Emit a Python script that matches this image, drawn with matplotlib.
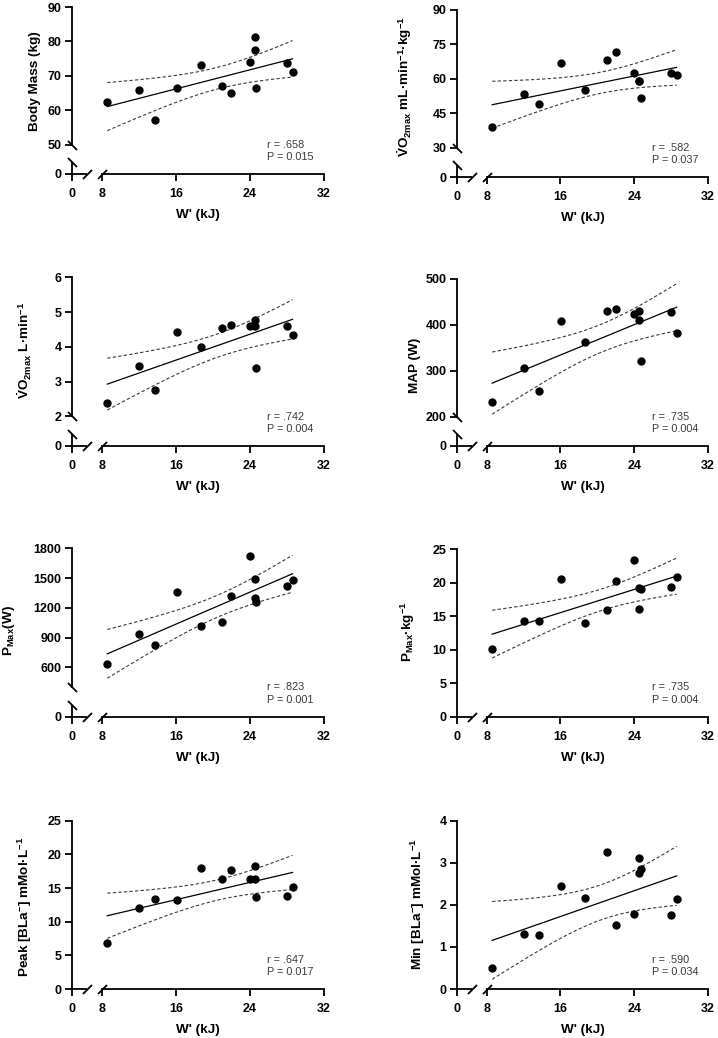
import numpy as np
import matplotlib.pyplot as plt

plt.rcParams['font.family'] = 'Liberation Sans'
plt.rcParams['mathtext.fontset'] = 'custom'
plt.rcParams['mathtext.rm'] = 'Liberation Sans:bold'
plt.rcParams['mathtext.it'] = 'Liberation Sans:bold'
plt.rcParams['mathtext.bf'] = 'Liberation Sans:bold'

# W' (kJ) for the 13 participants, same order in every panel
w_prime = [8.6, 12.0, 13.7, 16.1, 18.7, 21.0, 22.0, 24.0, 24.5, 24.5, 24.7, 28.0, 28.6]

body_mass = [62.3, 65.8, 57.3, 66.5, 73.3, 67.0, 65.0, 74.1, 81.2, 77.6, 66.4, 73.8, 71.0]
vo2max_rel = [38.9, 53.2, 48.8, 66.8, 55.1, 68.2, 71.4, 62.4, 59.0, 59.2, 51.7, 62.4, 61.4]
vo2max_abs = [2.39, 3.46, 2.76, 4.42, 4.00, 4.55, 4.62, 4.59, 4.78, 4.59, 3.40, 4.59, 4.33]
map_w = [232, 305, 256, 408, 363, 429, 435, 424, 429, 411, 322, 428, 383]
pmax = [630, 932, 821, 1358, 1019, 1062, 1321, 1723, 1300, 1491, 1257, 1418, 1481]
pmax_kg = [10.1, 14.2, 14.3, 20.5, 13.9, 15.9, 20.3, 23.3, 16.0, 19.2, 19.0, 19.3, 20.9]
peak_bla = [6.8, 12.1, 13.4, 13.2, 18.0, 16.3, 17.7, 16.3, 18.3, 16.4, 13.7, 13.8, 15.2]
min_bla = [0.50, 1.30, 1.28, 2.45, 2.16, 3.26, 1.52, 1.79, 3.11, 2.75, 2.85, 1.75, 2.15]

y_series = [body_mass, vo2max_rel, vo2max_abs, map_w, pmax, pmax_kg, peak_bla, min_bla]
y_labels = [
    'Body Mass (kg)',
    r'$\dot{V}$O$_{2max}$ mL·min$^{-1}$·kg$^{-1}$',
    r'$\dot{V}$O$_{2max}$ L·min$^{-1}$',
    'MAP (W)',
    r'P$_{Max}$(W)',
    r'P$_{Max}$·kg$^{-1}$',
    r'Peak [BLa$^{-}$] mMol·L$^{-1}$',
    r'Min [BLa$^{-}$] mMol·L$^{-1}$',
]
y_breaks = [50, 30, 2, 200, 400, None, None, None]
y_tops = [90, 90, 6, 500, 1800, 25, 25, 4]
y_ticks = [
    [0, 50, 60, 70, 80, 90],
    [0, 30, 45, 60, 75, 90],
    [0, 2, 3, 4, 5, 6],
    [0, 200, 300, 400, 500],
    [0, 600, 900, 1200, 1500, 1800],
    [0, 5, 10, 15, 20, 25],
    [0, 5, 10, 15, 20, 25],
    [0, 1, 2, 3, 4],
]
r_values = ['.658', '.582', '.742', '.735', '.823', '.735', '.647', '.590']
p_values = ['0.015', '0.037', '0.004', '0.004', '0.001', '0.004', '0.017', '0.034']
x_ticks = [0, 8, 16, 24, 32]

# layout in pixels (figure 718 x 1038)
W, H = 718, 1038
col_left = [72, 457]
col_width = [252, 251]
tops = [7, 9.7, 277.3, 278.7, 548.3, 549, 820.7, 820.7]
bottoms = [174, 177, 446, 446, 716.7, 716.7, 989, 989]
label_pos = [(35, 81), (405, 87), (25, 350), (415, 365), (9, 631), (408, 632),
             (25, 907), (418, 904)]

T_CRIT = 2.201  # t(0.975, df=11)


def broken(b, top, frac):
    def fwd(v):
        v = np.asarray(v, float)
        return np.where(v < b, v / b * frac, frac + (v - b) / (top - b) * (1 - frac))

    def inv(u):
        u = np.asarray(u, float)
        return np.where(u < frac, u / frac * b, b + (u - frac) / (1 - frac) * (top - b))
    return fwd, inv


def fit_band(x, y):
    x = np.asarray(x, float)
    y = np.asarray(y, float)
    n = len(x)
    slope, icpt = np.polyfit(x, y, 1)
    xs = np.linspace(x.min(), x.max(), 100)
    yhat = icpt + slope * xs
    s = np.sqrt(np.sum((y - (icpt + slope * x)) ** 2) / (n - 2))
    se = s * np.sqrt(1 / n + (xs - x.mean()) ** 2 / np.sum((x - x.mean()) ** 2))
    return xs, yhat, yhat - T_CRIT * se, yhat + T_CRIT * se


XFRAC = 0.118   # share of x axis used by the 0-8 stub
YFRAC = 0.175   # share of y axis used by the 0-break stub

fig = plt.figure(figsize=(W / 100, H / 100), dpi=100)

for i, yv in enumerate(y_series):
    col = i % 2
    top, bot = tops[i], bottoms[i]
    hpx = bot - top
    ax = fig.add_axes([col_left[col] / W, 1 - bot / H, col_width[col] / W, hpx / H])

    ax.set_xscale('function', functions=broken(8, 32, XFRAC))
    ax.set_xlim(0, 32)
    b = y_breaks[i]
    if b is not None:
        ax.set_yscale('function', functions=broken(b, y_tops[i], YFRAC))
    ax.set_ylim(0, y_tops[i])

    xs, yhat, lo, hi = fit_band(w_prime, yv)
    ax.plot(xs, yhat, color='black', lw=0.9, zorder=2)
    ax.plot(xs, lo, color='#3a3a3a', lw=0.8, dashes=(3, 2), zorder=2)
    ax.plot(xs, hi, color='#3a3a3a', lw=0.8, dashes=(3, 2), zorder=2)
    ax.plot(w_prime, yv, 'o', color='black', ms=5, zorder=3, clip_on=False)

    ax.text(0.775, 23 / hpx, f'r = {r_values[i]}\nP = {p_values[i]}',
            transform=ax.transAxes, fontsize=7.8, color='#3a3a3a',
            va='center', ha='left', linespacing=1.3)

    # axes with breaks
    for s in ['top', 'right']:
        ax.spines[s].set_visible(False)
    for s in ['left', 'bottom']:
        ax.spines[s].set_linewidth(1.3)
    ax.spines['bottom'].set_bounds(8, 32)
    lk = dict(transform=ax.transAxes, color='black', lw=1.3, clip_on=False,
              solid_capstyle='butt')
    mk = dict(transform=ax.transAxes, ls='none', ms=6.5, mew=1.3, mec='black',
              clip_on=False)
    xstub = 15 / col_width[col]
    ax.plot([0, xstub], [0, 0], **lk)
    ax.plot([xstub, XFRAC], [0, 0], marker=[(-1, -1), (1, 1)], **mk)
    if b is not None:
        ax.spines['left'].set_bounds(b, y_tops[i])
        ystub = 12 / hpx
        ax.plot([0, 0], [0, ystub], **lk)
        ax.plot([0, 0], [ystub, YFRAC], marker=[(-1, 1), (1, -1)], **mk)

    ax.set_xticks(x_ticks)
    ax.set_yticks(y_ticks[i])
    ax.set_xticklabels([str(t) for t in x_ticks])
    ax.set_yticklabels([str(t) for t in y_ticks[i]])
    ax.minorticks_off()
    ax.tick_params(axis='both', direction='out', length=5, width=1.3,
                   labelsize=9)
    ax.tick_params(axis='x', pad=5)
    ax.tick_params(axis='y', pad=2.5)
    for lab in ax.get_xticklabels() + ax.get_yticklabels():
        lab.set_fontweight('bold')

    ax.set_xlabel("W' (kJ)", fontsize=9.7, fontweight='bold', va='center')
    ax.xaxis.set_label_coords(0.5, -41 / hpx)
    lx, ly = label_pos[i]
    ax.set_ylabel(y_labels[i], fontsize=9.7, fontweight='bold', va='center')
    ax.yaxis.set_label_coords((lx - col_left[col]) / col_width[col], (bot - ly) / hpx)
    ax.patch.set_visible(False)

fig.savefig('out.png', dpi=100)
